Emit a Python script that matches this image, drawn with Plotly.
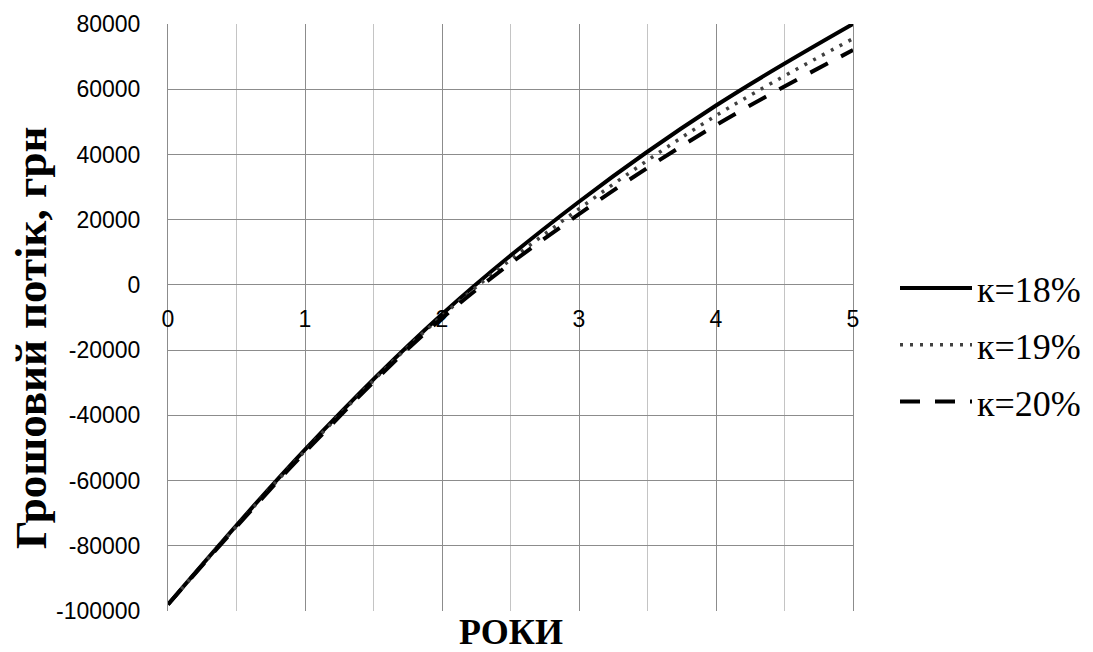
import plotly.graph_objects as go

years = [0, 1, 2, 3, 4, 5]
k18 = [-98000, -50500, -9000, 25500, 55000, 80000]
k19 = [-98000, -50900, -9500, 23300, 51900, 75500]
k20 = [-98000, -51300, -10200, 21700, 49000, 72000]
series_names = ["к=18%", "к=19%", "к=20%"]
x_ticks = [0, 1, 2, 3, 4, 5]
y_ticks = [-100000, -80000, -60000, -40000, -20000, 0, 20000, 40000, 60000, 80000]

W, H = 1093, 652
L, R, T, B = 168, 240, 24, 41
pw, ph = W - L - R, H - T - B


def py(screen_y):
    return (H - B - screen_y) / ph


def px(screen_x):
    return (screen_x - L) / pw


fig = go.Figure()
fig.add_trace(go.Scatter(x=years, y=k18, name=series_names[0], mode="lines",
                         line=dict(color="black", width=4, shape="spline"),
                         legendgroup="a"))
fig.add_trace(go.Scatter(x=years, y=k19, name=series_names[1], mode="lines",
                         line=dict(color="#404040", width=3.5, shape="spline", dash="3px,7px"),
                         legendgroup="b"))
fig.add_trace(go.Scatter(x=years, y=k20, name=series_names[2], mode="lines",
                         line=dict(color="black", width=4, shape="spline", dash="20px,15px"),
                         legendgroup="c"))

ymin, ymax = -100000, 80000
zero_pos = (0 - ymin) / (ymax - ymin)

tickfont = dict(family="Liberation Sans, Arial, sans-serif", size=23, color="black")
serif = "Liberation Serif, Times New Roman, serif"
major = "#8c8c8c"
minorc = "#c4c4c4"

fig.update_layout(
    width=W, height=H,
    margin=dict(l=L, r=R, t=T, b=B, autoexpand=False),
    paper_bgcolor="white", plot_bgcolor="white",
    showlegend=True,
    legend=dict(x=px(895), y=py(258), xanchor="left", yanchor="top",
                font=dict(family=serif, size=36, color="black"),
                itemwidth=72, tracegroupgap=7, bgcolor="rgba(0,0,0,0)"),
    xaxis=dict(range=[0, 5], tickvals=x_ticks, ticktext=[str(v) for v in x_ticks],
               anchor="free", position=zero_pos, showgrid=True, gridcolor=major, gridwidth=1,
               minor=dict(dtick=0.5, showgrid=True, gridcolor=minorc, gridwidth=1),
               zeroline=False, showline=False, ticks="outside", ticklen=14, automargin=False,
               tickcolor="rgba(0,0,0,0)", tickfont=tickfont),
    yaxis=dict(range=[ymin, ymax], tickvals=y_ticks, ticktext=[str(v) for v in y_ticks],
               showgrid=True, gridcolor=major, gridwidth=1, zeroline=False,
               showline=True, mirror=True, linecolor=major, linewidth=1, automargin=False,
               ticks="outside", ticklen=22, tickcolor="rgba(0,0,0,0)", tickfont=tickfont),
    annotations=[
        dict(text="<b>РОКИ</b>", x=0.5, xref="paper", y=py(650), yref="paper",
             yanchor="bottom", xanchor="center", showarrow=False, yshift=-4,
             font=dict(family=serif, size=36, color="black")),
        dict(text="<b>Грошовий потік, грн</b>", x=px(31), xref="paper",
             y=py(338), yref="paper", textangle=-90,
             xanchor="center", yanchor="middle", showarrow=False,
             font=dict(family=serif, size=45, color="black")),
    ],
)

fig.write_html("out.html", config={"displayModeBar": False},
               post_script="document.body.style.margin='0';document.body.style.padding='0';"
                           "document.body.style.overflow='hidden';")
